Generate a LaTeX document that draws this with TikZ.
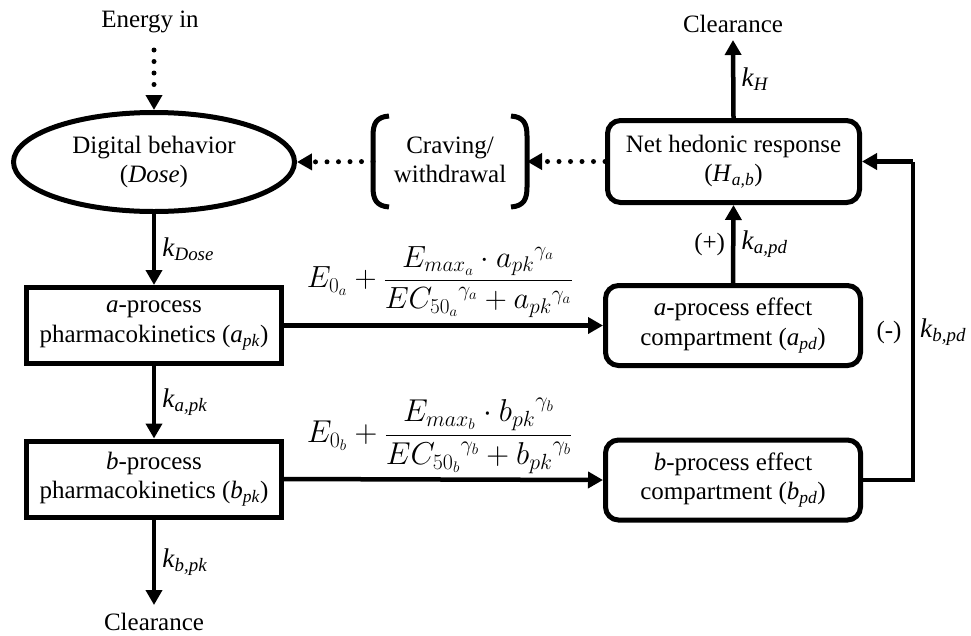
\documentclass[tikz,border=0pt]{standalone}
\usepackage{fontspec}
\setmainfont{Liberation Serif}
\usepackage{graphicx}
\usetikzlibrary{arrows.meta,shapes.geometric}
\newcommand\kk[1]{{\fontsize{27}{29}\selectfont\textit{k}\textsubscript{\textit{#1}}}}
\begin{document}
\begin{tikzpicture}[x=1pt,y=-1pt,
  font=\fontsize{25}{29.5}\selectfont,
  tip/.style={-{Triangle[length=15pt,width=16pt]}},
  flow/.style={line width=4.5pt, tip},
  dotflow/.style={line width=5pt, dash pattern=on 0pt off 11.5pt, line cap=round, tip},
  pkbox/.style={draw, line width=5pt, minimum width=255pt, minimum height=76pt, align=center, inner sep=0pt},
  pdbox/.style={draw, line width=5pt, rounded corners=13pt, minimum width=255pt, minimum height=80pt, align=center, inner sep=0pt},
  lbl/.style={inner sep=1pt}
]
\useasboundingbox (0,0) rectangle (971,635);
\fill[white] (0,0) rectangle (971,635);

% left column
\node[lbl] (energy) at (150,22) {Energy in};
\node[draw, ellipse, line width=5pt, minimum width=281pt, minimum height=99pt, inner sep=0pt, align=center] (dose) at (154,162) {Digital behavior\\(\textit{Dose})};
\node[pkbox] (apk) at (154,325.5) {\textit{a}-process\\pharmacokinetics (\textit{a}\textsubscript{\textit{pk}})};
\node[pkbox] (bpk) at (154,479) {\textit{b}-process\\pharmacokinetics (\textit{b}\textsubscript{\textit{pk}})};
\node[lbl] (clearL) at (154,622) {Clearance};
\coordinate (clearLend) at (154,605);

\draw[dotflow] (154,50) -- (dose.north);
\draw[flow] (dose.south) -- (apk.north) node[midway, right=5pt, lbl] (kdose) {\kk{Dose}};
\draw[flow] (apk.south) -- (bpk.north) node[midway, right=5pt, lbl] (kapk) {\kk{a,pk}};
\draw[flow] (bpk.south) -- (clearLend) node[midway, right=5pt, lbl] (kbpk) {\kk{b,pk}};

% right column
\node[lbl] (clearR) at (733,24) {Clearance};
\coordinate (clearRend) at (733,40);
\node[pdbox, minimum height=82pt, minimum width=252pt] (net) at (733.5,161.5) {Net hedonic response\\(\textit{H}\textsubscript{\textit{a,b}})};
\node[pdbox] (apd) at (733,325.5) {\textit{a}-process effect\\compartment (\textit{a}\textsubscript{\textit{pd}})};
\node[pdbox] (bpd) at (733,480) {\textit{b}-process effect\\compartment (\textit{b}\textsubscript{\textit{pd}})};

\draw[flow] (net.north) -- (clearRend) node[midway, right=5pt, lbl] (kH) {\kk{H}};
\draw[flow] (apd.north) -- (net.south) node[midway, right=5pt, lbl] (kapd) {\kk{a,pd}}
  node[midway, left=5pt, lbl] (plus) {(+)};

% craving
\node[align=center, inner sep=0pt] (crave) at (450,160) {Craving/\\withdrawal};
\coordinate (crL) at (373,161.5);
\coordinate (crR) at (527,161.5);
\draw[line width=5pt] (389,116) .. controls (376,117) and (373,124) .. (373,136) -- (373,187) .. controls (373,199) and (376,206) .. (389,207);
\draw[line width=5pt] (511,116) .. controls (524,117) and (527,124) .. (527,136) -- (527,187) .. controls (527,199) and (524,206) .. (511,207);
\draw[dotflow] (net.west) -- (crR);
\draw[dotflow] (crL) -- (dose.east);

% horizontal flows with formulas
\draw[flow] (apk.east) -- (apd.west);
\draw[flow] (bpk.east) -- (bpd.west);
\node[inner sep=0pt] (fa) at (440,282) {\resizebox{266pt}{!}{$\displaystyle E_{0_a}+\frac{E_{max_a}\cdot {a_{pk}}^{\gamma_a}}{{EC_{50_a}}^{\gamma_a}+{a_{pk}}^{\gamma_a}}$}};
\node[inner sep=0pt] (fb) at (440,436) {\resizebox{266pt}{!}{$\displaystyle E_{0_b}+\frac{E_{max_b}\cdot {b_{pk}}^{\gamma_b}}{{EC_{50_b}}^{\gamma_b}+{b_{pk}}^{\gamma_b}}$}};

% feedback
\coordinate (r1) at (913,480);
\coordinate (r2) at (913,161.5);
\draw[line width=4.5pt] (bpd.east) -- (r1) -- (r2);
\draw[flow] (r2) -- (net.east);
\node[lbl] (minus) at (889,332) {(-)};
\node[lbl] (kbpd) at (943,332) {\kk{b,pd}};
\end{tikzpicture}
\end{document}
